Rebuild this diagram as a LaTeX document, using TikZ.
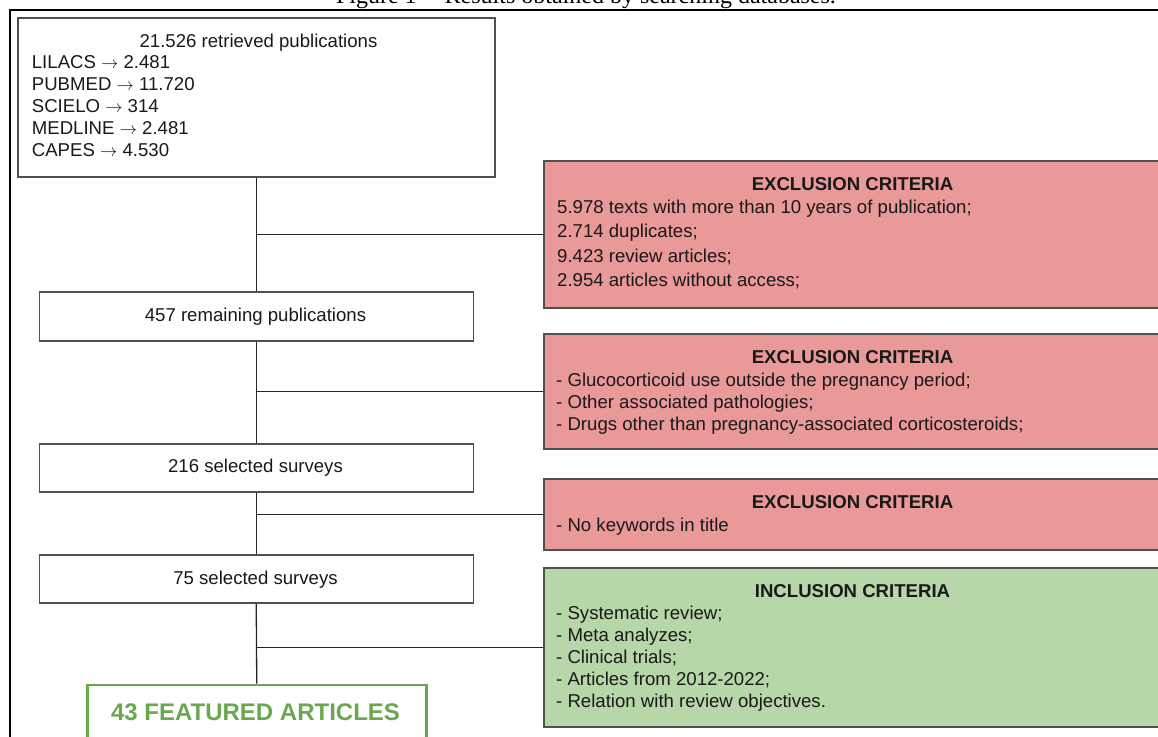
\documentclass[tikz,border=0pt]{standalone}
\usepackage{fontspec}
\setmainfont{Liberation Sans}
\newfontfamily\capfont{Liberation Serif}
\definecolor{exred}{HTML}{EA9999}
\definecolor{ingreen}{HTML}{B6D7A8}
\definecolor{fgreen}{HTML}{6AA84F}
\definecolor{bordergray}{HTML}{505050}
\tikzset{
  box/.style={draw=bordergray, line width=1.5pt, fill=white, inner sep=0pt, anchor=north west},
  exbox/.style={box, fill=exred},
  inbox/.style={box, fill=ingreen},
  finalbox/.style={draw=fgreen, line width=2.5pt, fill=white, inner sep=0pt, anchor=north west},
  txt/.style={inner sep=0pt, anchor=base west, font=\fontsize{18.6}{22}\selectfont, text=black!90},
  ctxt/.style={txt, anchor=base},
  ttl/.style={inner sep=0pt, anchor=base, font=\fontsize{18.6}{22}\selectfont\bfseries, text=black!90},
  conn/.style={draw=black!85, line width=1.3pt},
}
\begin{document}
\begin{tikzpicture}[x=1pt, y=-1pt]
\useasboundingbox (0,0) rectangle (1158,736);
% caption (cut off at top, as in the reference)
\node[inner sep=0pt, anchor=base, font=\capfont\fontsize{24}{28}\selectfont] (cap) at (586,3) {Figure 1 -- Results obtained by searching databases.};
% outer frame
\draw[line width=2pt, black] (10,760) -- (10,10) -- (1180,10);
% left column boxes (all centred on x = 255.5)
\node[box, minimum width=477pt, minimum height=159pt] (top) at (17,17) {};
\node[box, minimum width=434pt, minimum height=49pt] (b457) at (38.5,291) {};
\node[box, minimum width=434pt, minimum height=48pt] (b216) at (38.5,443) {};
\node[box, minimum width=434pt, minimum height=48pt] (b75) at (38.5,554) {};
\node[finalbox, minimum width=339pt, minimum height=70pt] (final) at (86,683.5) {};
% right column boxes
\node[exbox, minimum width=640pt, minimum height=147pt] (ex1) at (543,160) {};
\node[exbox, minimum width=640pt, minimum height=115pt] (ex2) at (543,333) {};
\node[exbox, minimum width=640pt, minimum height=71pt] (ex3) at (543,478) {};
\node[inbox, minimum width=640pt, minimum height=159pt] (inc) at (543,567) {};
% connectors
\draw[conn] (top.south) -- (b457.north);
\draw[conn] (b457.south) -- (b216.north);
\draw[conn] (b216.south) -- (b75.north);
\draw[conn] (b75.south) -- (final.north);
\draw[conn] (ex1.west -| top.south) -- (ex1.west);
\draw[conn] (ex2.west -| top.south) -- (ex2.west);
\draw[conn] (ex3.west -| top.south) -- (ex3.west);
\draw[conn] (inc.west -| top.south) -- (inc.west);
% top box text
\node[ctxt] (t0) at (258.5,47.5) {21.526 retrieved publications};
\node[txt] (t1) at (31.7,68.5) {LILACS \(\rightarrow\) 2.481};
\node[txt] (t2) at (31.7,90.3) {PUBMED \(\rightarrow\) 11.720};
\node[txt] (t3) at (31.7,112.2) {SCIELO \(\rightarrow\) 314};
\node[txt] (t4) at (31.7,134.1) {MEDLINE \(\rightarrow\) 2.481};
\node[txt] (t5) at (31.7,156.2) {CAPES \(\rightarrow\) 4.530};
% left box texts
\node[ctxt] (t457) at (255.5,321.5) {457 remaining publications};
\node[ctxt] (t216) at (255.5,472.5) {216 selected surveys};
\node[ctxt] (t75) at (255.5,584.5) {75 selected surveys};
\node[inner sep=0pt, anchor=base, font=\fontsize{24}{28}\selectfont\bfseries, text=fgreen] (tfin) at (255.5,720) {43 FEATURED ARTICLES};
% exclusion 1
\node[ttl] (e1t) at (852.5,190.7) {EXCLUSION CRITERIA};
\node[txt] (e1a) at (557,213.3) {5.978 texts with more than 10 years of publication;};
\node[txt] (e1b) at (557,237.8) {2.714 duplicates;};
\node[txt] (e1c) at (557,262.3) {9.423 review articles;};
\node[txt] (e1d) at (557,286.8) {2.954 articles without access;};
% exclusion 2
\node[ttl] (e2t) at (852.5,363.4) {EXCLUSION CRITERIA};
\node[txt] (e2a) at (556,386.6) {- Glucocorticoid use outside the pregnancy period;};
\node[txt] (e2b) at (556,408.4) {- Other associated pathologies;};
\node[txt] (e2c) at (556,430.2) {- Drugs other than pregnancy-associated corticosteroids;};
% exclusion 3
\node[ttl] (e3t) at (852.5,508.6) {EXCLUSION CRITERIA};
\node[txt] (e3a) at (556,531.6) {- No keywords in title};
% inclusion
\node[ttl] (i0) at (852.5,597.5) {INCLUSION CRITERIA};
\node[txt] (i1) at (556,619.5) {- Systematic review;};
\node[txt] (i2) at (556,641.5) {- Meta analyzes;};
\node[txt] (i3) at (556,663.5) {- Clinical trials;};
\node[txt] (i4) at (556,685.5) {- Articles from 2012-2022;};
\node[txt] (i5) at (556,707.5) {- Relation with review objectives.};
\end{tikzpicture}
\end{document}
